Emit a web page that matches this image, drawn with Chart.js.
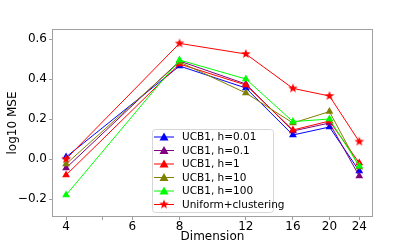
<!DOCTYPE html>
<html>
<head>
<meta charset="utf-8">
<script src="https://cdn.jsdelivr.net/npm/chart.js@4"></script>
<style>
  html, body { margin: 0; padding: 0; background: #fff; }
  #wrap { width: 415px; height: 244px; }
</style>
</head>
<body>
<div id="wrap"><canvas id="c" width="415" height="244"></canvas></div>
<script>
// data
const dims = [4, 8, 12, 16, 20, 24];
const xTicks = [4, 5, 6, 8, 12, 16, 20, 24];
const xLabels = [4, 6, 8, 12, 16, 20, 24];
const yTicks = [-0.2, 0.0, 0.2, 0.4, 0.6];

const ucbH001 = [0.01, 0.465, 0.355, 0.12, 0.16, -0.06];
const ucbH01 = [-0.045, 0.49, 0.375, 0.14, 0.18, -0.085];
const ucbH1 = [-0.08, 0.475, 0.37, 0.145, 0.19, -0.02];
const ucbH10 = [-0.025, 0.485, 0.33, 0.18, 0.237, -0.04];
const ucbH100 = [-0.18, 0.495, 0.40, 0.187, 0.20, -0.035];
const uniformClust = [0.0, 0.578, 0.525, 0.353, 0.315, 0.087];

const seriesNames = ['UCB1, h=0.01', 'UCB1, h=0.1', 'UCB1, h=1', 'UCB1, h=10', 'UCB1, h=100', 'Uniform+clustering'];
const seriesValues = [ucbH001, ucbH01, ucbH1, ucbH10, ucbH100, uniformClust];
const seriesColors = ['#0000ff', '#800080', '#ff0000', '#808000', '#00ff00', '#ff0000'];

// filled star like matplotlib '*'
function makeStar(color, r) {
    const c = document.createElement('canvas');
    const s = Math.ceil(r * 2 + 2);
    c.width = s; c.height = s;
    const g = c.getContext('2d');
    g.beginPath();
    for (let i = 0; i < 10; i++) {
        const rad = i % 2 === 0 ? r : r * 0.42;
        const a = -Math.PI / 2 + i * Math.PI / 5;
        const px = s / 2 + rad * Math.cos(a);
        const py = s / 2 + rad * Math.sin(a);
        if (i === 0) g.moveTo(px, py); else g.lineTo(px, py);
    }
    g.closePath();
    g.fillStyle = color;
    g.fill();
    return c;
}
const starImg = makeStar('#ff0000', 5);

const datasets = seriesNames.map((name, i) => ({
    label: name,
    data: dims.map((d, j) => ({ x: d, y: seriesValues[i][j] })),
    borderColor: seriesColors[i],
    backgroundColor: seriesColors[i],
    borderWidth: 1,
    pointStyle: i === 5 ? starImg : 'triangle',
    pointRadius: 4.5,
    pointBorderWidth: 0,
    pointHoverRadius: 4.5,
    order: 6 - i
}));

// box around plot area + legend inside it
const framePlugin = {
    id: 'frame',
    afterDatasetsDraw(chart) {
        const { ctx, chartArea: a } = chart;
        ctx.save();
        ctx.strokeStyle = '#a0a0a0';
        ctx.lineWidth = 1;
        ctx.strokeRect(a.left + 0.5, a.top + 0.5, a.right - a.left - 1, a.bottom - a.top - 1);

        // legend
        const lx = a.left + 100, ly = a.top + 100;
        const w = 121, h = 83;
        ctx.fillStyle = 'rgba(255,255,255,0.85)';
        ctx.strokeStyle = '#d6d6d6';
        ctx.beginPath();
        ctx.roundRect(lx + 0.5, ly + 0.5, w, h, 3);
        ctx.fill();
        ctx.stroke();
        ctx.font = '10.5px "DejaVu Sans"';
        ctx.textBaseline = 'middle';
        seriesNames.forEach((name, i) => {
            const yy = ly + 8 + i * 13.5;
            ctx.strokeStyle = seriesColors[i];
            ctx.lineWidth = 1;
            ctx.beginPath();
            ctx.moveTo(lx + 2, yy);
            ctx.lineTo(lx + 22, yy);
            ctx.stroke();
            if (i === 5) {
                ctx.drawImage(starImg, lx + 12 - starImg.width / 2, yy - starImg.height / 2);
            } else {
                ctx.fillStyle = seriesColors[i];
                ctx.beginPath();
                ctx.moveTo(lx + 12, yy - 4.5);
                ctx.lineTo(lx + 16.5, yy + 3.5);
                ctx.lineTo(lx + 7.5, yy + 3.5);
                ctx.closePath();
                ctx.fill();
            }
            ctx.fillStyle = '#000';
            ctx.fillText(name, lx + 30, yy + 0.5);
        });
        ctx.restore();
    }
};

new Chart(document.getElementById('c'), {
    type: 'line',
    data: { datasets: datasets },
    options: {
        responsive: false,
        animation: false,
        layout: { padding: { left: 0, right: 42, top: 29, bottom: 0 } },
        plugins: { legend: { display: false }, tooltip: { enabled: false } },
        scales: {
            x: {
                type: 'logarithmic',
                min: 3.67,
                max: 26.1,
                afterBuildTicks: (s) => { s.ticks = xTicks.map(v => ({ value: v })); },
                afterFit: (s) => { s.height = 27; },
                border: { display: false },
                grid: { display: true, drawOnChartArea: false, drawTicks: true, tickLength: 3, color: '#a0a0a0' },
                ticks: {
                    autoSkip: false,
                    maxRotation: 0,
                    padding: 0,
                    color: '#000',
                    font: { family: 'DejaVu Sans', size: 12 },
                    callback: (v) => xLabels.includes(v) ? String(v) : ''
                },
                title: {
                    display: true,
                    text: 'Dimension',
                    color: '#000',
                    font: { family: 'DejaVu Sans', size: 12 },
                    padding: { top: 0, bottom: 0 }
                }
            },
            y: {
                min: -0.29,
                max: 0.65,
                afterBuildTicks: (s) => { s.ticks = yTicks.map(v => ({ value: v })); },
                afterFit: (s) => { s.width = 52; },
                border: { display: false },
                grid: { display: true, drawOnChartArea: false, drawTicks: true, tickLength: 3, color: '#a0a0a0' },
                ticks: {
                    padding: 2,
                    color: '#000',
                    font: { family: 'DejaVu Sans', size: 12 },
                    callback: (v) => v.toFixed(1).replace('-', '\u2212')
                },
                title: {
                    display: true,
                    text: 'log10 MSE',
                    color: '#000',
                    font: { family: 'DejaVu Sans', size: 12 },
                    padding: { top: 6, bottom: 0 }
                }
            }
        }
    },
    plugins: [framePlugin]
});
</script>
</body>
</html>
